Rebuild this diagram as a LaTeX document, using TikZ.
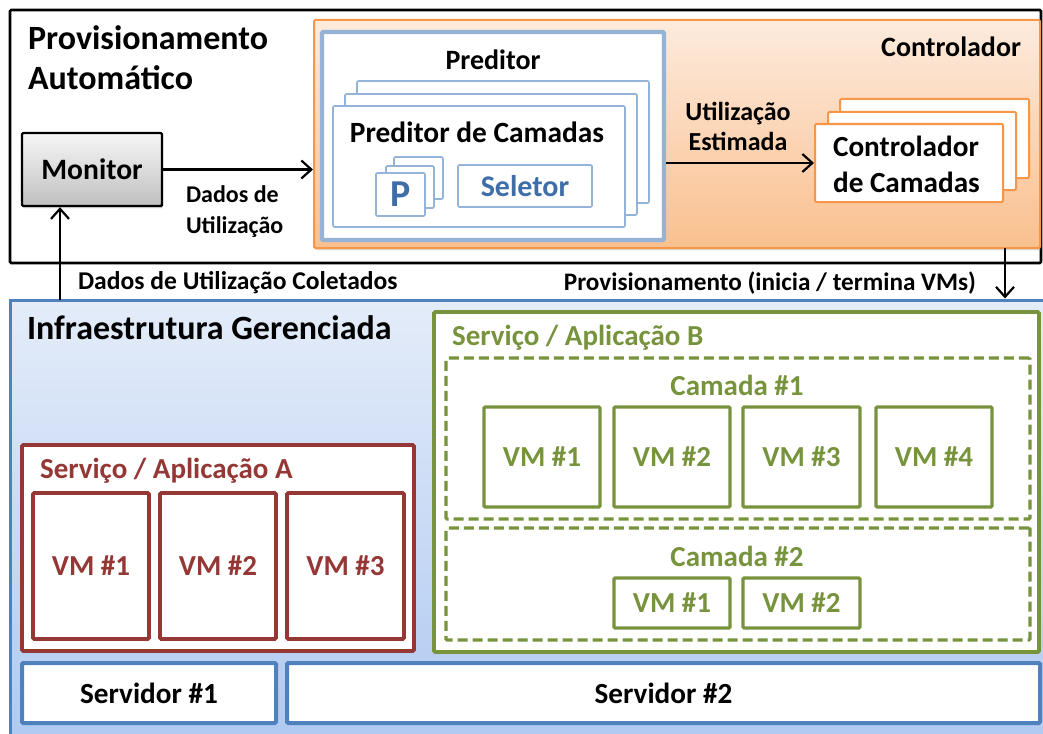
\documentclass[tikz,border=0pt]{standalone}
\usepackage{fontspec}
\setmainfont{Carlito}
\usepackage{tikz}
\usetikzlibrary{arrows.meta,fit,shadows}

\definecolor{ctlorange}{HTML}{F79646}
\definecolor{ctltop}{HTML}{FDEBDD}
\definecolor{ctlbot}{HTML}{FAC08F}
\definecolor{predblue}{HTML}{95B3D7}
\definecolor{selblue}{HTML}{3E6DA8}
\definecolor{infrablue}{HTML}{4F81BD}
\definecolor{infratop}{HTML}{E4ECF9}
\definecolor{infrabot}{HTML}{AFC9F1}
\definecolor{svcred}{HTML}{953735}
\definecolor{svcgreen}{HTML}{77933C}

\newcommand{\bsz}[2]{\fontsize{#1}{#2}\selectfont\bfseries}

\begin{document}
\begin{tikzpicture}[x=0.5pt,y=-0.5pt,
font=\bsz{14}{17},
box/.style={draw,inner sep=0pt,rounded corners=0.6pt},
arr/.style={line width=1.1pt,-{Straight Barb[length=5pt,width=9pt]}},
predlayer/.style={box,draw=predblue,line width=0.8pt,fill=white},
cclayer/.style={box,draw=ctlorange,line width=1pt,fill=white},
vmred/.style={box,draw=svcred,line width=1.8pt,fill=white},
vmgreen/.style={box,draw=svcgreen,line width=1.6pt,fill=white},
camada/.style={box,draw=svcgreen,line width=1.6pt,dash pattern=on 5pt off 2.5pt},
server/.style={box,draw=infrablue,line width=2pt,fill=white}]
\useasboundingbox (0,0) rectangle (1043,733);

\node (auto) [box,draw=black,line width=1.3pt,fit={(10,10) (1041,263)}] {};
\node (autot) at (21,58) [anchor=west,align=left,font=\bsz{17}{20}] {Provisionamento\\Automático};

\node (ctl) [box,draw=ctlorange,line width=1pt,top color=ctltop,bottom color=ctlbot,
  drop shadow={opacity=0.25,shadow xshift=0.6pt,shadow yshift=-1.2pt},
  fit={(314,20) (1040,248)}] {};
\node (ctlt) at (1028,47) [anchor=east] {Controlador};

\node (pred) [box,draw=predblue,line width=2.2pt,fill=white,fit={(322,32) (664,240)}] {};
\node (predt) at (493,60) {Preditor};

\node (pc3) [predlayer,fit={(357,81) (649,203)}] {};
\node (pc2) [predlayer,fit={(345,94) (637,215)}] {};
\node (pc) [predlayer,fit={(333,106) (625,227)}] {};
\node (pct) at (477,132) [font=\bsz{14.7}{17}] {Preditor de Camadas};

\node (p3) [predlayer,fit={(394,157) (443,199)}] {};
\node (p2) [predlayer,fit={(386,166) (434,208)}] {};
\node (p) [predlayer,fit={(376,173) (425,216)},
  label={[text=selblue,font=\bsz{19}{20}]center:P}] {};
\node (sel) [predlayer,fit={(458,165) (592,207)},
  label={[text=selblue,font=\bsz{15}{17}]center:Seletor}] {};

\node (cc3) [cclayer,fit={(840,99) (1029,178)}] {};
\node (cc2) [cclayer,fit={(828,112) (1016,190)}] {};
\node (cc) [cclayer,fit={(815,124) (1003,202)}] {};
\node (cct) at (826,164) [anchor=west,align=left,font=\bsz{14.6}{18}] {Controlador\\de Camadas};

\node (mon) [box,draw=black,line width=1.2pt,top color=gray!6,bottom color=gray!50,
  drop shadow={opacity=0.25,shadow xshift=0.6pt,shadow yshift=-1.2pt},
  fit={(22,133) (162,206)},label={[font=\bsz{14.8}{17}]center:Monitor}] {};

\node (dados) at (179,212) [anchor=west,align=left,font=\bsz{12}{15.5}] {Dados de\\Utilização};
\node (estim) at (738,126) [align=center,font=\bsz{13}{15}] {Utilização\\Estimada};

\draw[arr] (mon.east) -- (mon.east -| ctl.west);
\draw[arr] (cc.west -| pred.east) -- (cc.west);

\node (infra) [draw=infrablue,line width=1.5pt,top color=infratop,bottom color=infrabot,
  inner sep=0pt,fit={(10,300) (1050,745)}] {};
\node (infrat) at (20,328) [anchor=west,font=\bsz{17}{19}] {Infraestrutura Gerenciada};

\coordinate (colx) at (60,300);
\coordinate (provx) at (1005,248);
\draw[arr] (colx) -- (colx |- mon.south);
\draw[arr] (provx) -- (provx |- infra.north);
\node (colt) at (71,283) [anchor=west,font=\bsz{12.8}{15}] {Dados de Utilização Coletados};
\node (provt) at (983,283) [anchor=east,font=\bsz{12.6}{15}] {Provisionamento (inicia / termina VMs)};

\node (sa) [box,draw=svcred,line width=1.8pt,fill=white,fit={(22,445) (414,651)}] {};
\node (sat) at (33,471) [anchor=west,text=svcred,font=\bsz{14.5}{17}] {Serviço / Aplicação A};
\foreach \i/\xa/\xb in {1/33/149,2/160/276,3/287/404}
  \node (sa\i) [vmred,fit={(\xa,493) (\xb,639)},
    label={[text=svcred,font=\bsz{14.5}{17}]center:VM \#\i}] {};

\node (sb) [box,draw=svcgreen,line width=1.8pt,fill=white,fit={(434,312) (1039,652)}] {};
\node (sbt) at (445,338) [anchor=west,text=svcgreen,font=\bsz{14.5}{17}] {Serviço / Aplicação B};

\node (cam1) [camada,fit={(446,358) (1030,519)}] {};
\node (cam1t) at (737,385) [text=svcgreen,font=\bsz{14.5}{17}] {Camada \#1};
\foreach \i/\xa/\xb in {1/484/600,2/614/730,3/743/860,4/876/992}
  \node (ca\i) [vmgreen,fit={(\xa,407) (\xb,507)},
    label={[text=svcgreen,font=\bsz{14.5}{17}]center:VM \#\i}] {};

\node (cam2) [camada,fit={(446,528) (1030,640)}] {};
\node (cam2t) at (737,556) [text=svcgreen,font=\bsz{14.5}{17}] {Camada \#2};
\foreach \i/\xa/\xb in {1/614/730,2/743/860}
  \node (cb\i) [vmgreen,fit={(\xa,578) (\xb,628)},
    label={[text=svcgreen,font=\bsz{14.5}{17}]center:VM \#\i}] {};

\node (srv1) [server,fit={(22,663) (276,723)},
  label={[font=\bsz{14.6}{17}]center:Servidor \#1}] {};
\node (srv2) [server,fit={(287,663) (1040,723)},
  label={[font=\bsz{14.6}{17}]center:Servidor \#2}] {};
\end{tikzpicture}
\end{document}
